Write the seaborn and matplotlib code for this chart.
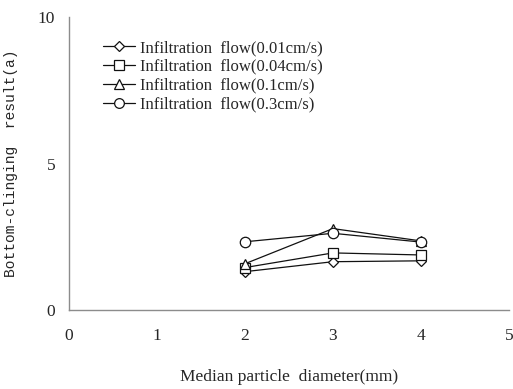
import matplotlib
matplotlib.use("Agg")
import matplotlib.pyplot as plt
import pandas as pd
import seaborn as sns

diameter = [2, 3, 4]
flow_001 = [1.31, 1.65, 1.68]
flow_004 = [1.45, 1.95, 1.88]
flow_01 = [1.58, 2.78, 2.36]
flow_03 = [2.33, 2.62, 2.32]
labels = [
    "Infiltration  flow(0.01cm/s)",
    "Infiltration  flow(0.04cm/s)",
    "Infiltration  flow(0.1cm/s)",
    "Infiltration  flow(0.3cm/s)",
]
markers = ["D", "s", "^", "o"]

rows = []
for label, values in zip(labels, [flow_001, flow_004, flow_01, flow_03]):
    for x, y in zip(diameter, values):
        rows.append({"diameter": x, "value": y, "series": label})
df = pd.DataFrame(rows)

sns.set_style("white")
plt.rcParams["font.family"] = ["Liberation Serif", "DejaVu Serif"]

fig = plt.figure(figsize=(5.13, 3.89), dpi=100)
ax = fig.add_axes([0.1345, 0.203, 0.8575, 0.753])

sns.lineplot(
    data=df, x="diameter", y="value", style="series", hue="series",
    palette=["#111111"] * 4, markers=dict(zip(labels, markers)), dashes=False,
    markersize=7.5, markerfacecolor="white", markeredgecolor="#111111",
    markeredgewidth=0.9, linewidth=0.9, ax=ax,
)
for line, m in zip(ax.lines, markers):
    if m == "D":
        line.set_markersize(5.5)

ax.set_xlim(0, 5)
ax.set_ylim(0, 10)
ax.set_xticks([0, 1, 2, 3, 4, 5])
ax.set_yticks([0, 5, 10])
for side in ["top", "right"]:
    ax.spines[side].set_visible(False)
for side in ["left", "bottom"]:
    ax.spines[side].set_color("#8c8c8c")
    ax.spines[side].set_linewidth(1.0)
ax.tick_params(axis="both", direction="out", length=4, color="#8c8c8c", labelsize=12.5)
ax.tick_params(axis="x", pad=9)
ax.tick_params(axis="y", pad=6)

ax.set_xlabel("Median particle  diameter(mm)", fontsize=12.5)
ax.set_ylabel("Bottom-clinging  result(a)", fontsize=10.5,
              family=["Liberation Mono", "DejaVu Sans Mono"])
ax.xaxis.set_label_coords(0.5, -0.2)
ax.yaxis.set_label_coords(-0.115, 0.5)

handles, _ = ax.get_legend_handles_labels()
for h in handles:
    if h.get_marker() == "D":
        h.set_markersize(5)
    else:
        h.set_markersize(7)
leg = ax.legend(
    handles=handles, labels=labels, loc="upper left", bbox_to_anchor=(0.063, 0.945),
    frameon=False, fontsize=12, handlelength=1.9, handletextpad=0.3,
    labelspacing=0.17, borderaxespad=0,
)

fig.savefig("out.png", dpi=100)
